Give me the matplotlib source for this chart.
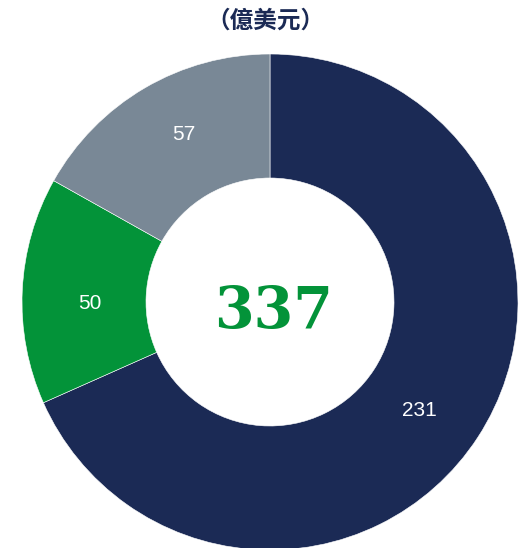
import numpy as np
import matplotlib.pyplot as plt

# data
labels = ['231', '50', '57']
values = [231, 50, 57]
colors = ['#1B2A55', '#039339', '#798896']
total_label = '337'
title = '（億美元）'

W, H = 524, 548
fig = plt.figure(figsize=(W / 100, H / 100), dpi=100)

# donut centre and radius in pixels
cx, cy, r = 270, 302, 248
ax = fig.add_axes([(cx - r) / W, (H - cy - r) / H, 2 * r / W, 2 * r / H])

wedges, _ = ax.pie(values, colors=colors, startangle=90, counterclock=False,
                   wedgeprops=dict(width=0.5, edgecolor='white', linewidth=0.4))

# small nudges (deg, radius) so labels sit where the original puts them
nudge = [(-3, 0.745), (3, 0.725), (-3, 0.76)]
for w, lab, (da, rr) in zip(wedges, labels, nudge):
    ang = np.deg2rad((w.theta1 + w.theta2) / 2 + da)
    ax.text(rr * np.cos(ang), rr * np.sin(ang), lab, ha='center', va='center',
            color='white', fontsize=15, family='Liberation Sans')

ax.text(0.016, -0.04, total_label, ha='center', va='center', color='#039339',
        fontsize=41, fontweight='bold', family='DejaVu Serif')
ax.set_xlim(-1, 1)
ax.set_ylim(-1, 1)
ax.set_aspect('equal')
ax.axis('off')

fig.text(265 / W, 1 - 21 / H, title, ha='center', va='center', color='#1B2A55',
         fontsize=17, fontweight='bold', family=['Noto Sans CJK TC', 'DejaVu Sans'])

fig.savefig('out.png', dpi=100)
